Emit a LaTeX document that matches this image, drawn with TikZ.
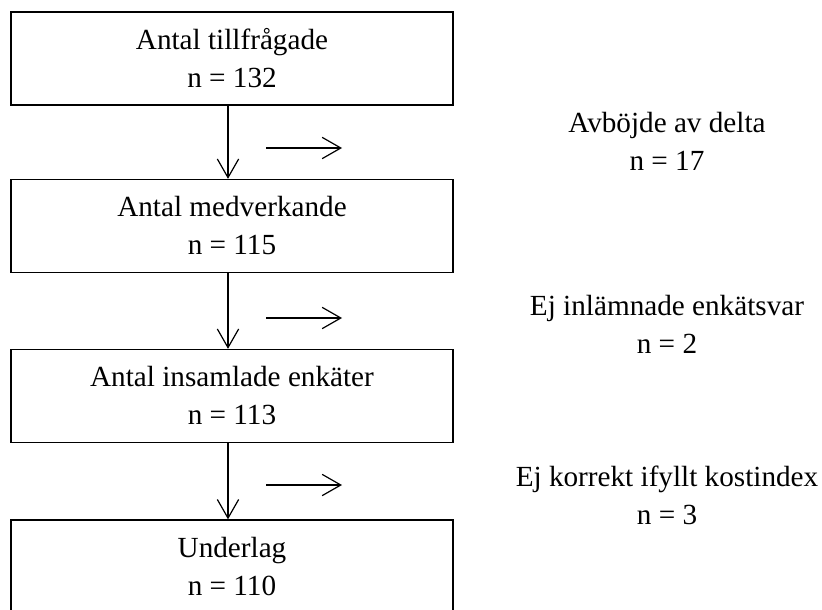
\documentclass[tikz,border=0pt]{standalone}
\usepackage{fontspec}
\setmainfont{Liberation Serif}
\usetikzlibrary{arrows.meta}
\tikzset{
    box/.style={draw, line width=1pt, minimum width=331.5pt, minimum height=69.75pt, inner sep=0pt, align=center},
    note/.style={align=center, inner sep=0pt},
    flow/.style={-{Straight Barb[length=14pt, width=16pt]}, line width=0.9pt},
    fc/.style={font=\fontsize{21.9}{28.5}\selectfont}
}
\begin{document}
\begin{tikzpicture}[x=0.75pt, y=-0.75pt, fc]
    \clip (0,0) rectangle (822,610);
    \useasboundingbox (0,0) rectangle (822,610);

    \node[box] (tot) at (232,58.5) {Antal tillfrågade\\n = 132};
    \node[box] (med) at (232,226) {Antal medverkande\\n = 115};
    \node[box] (ins) at (232,396) {Antal insamlade enkäter\\n = 113};
    \node[box] (und) at (232,566.5) {Underlag\\n = 110};

    \node[note] (avb) at (667,141) {Avböjde av delta\\n = 17};
    \node[note] (ejin) at (667,324) {Ej inlämnade enkätsvar\\n = 2};
    \node[note] (ejko) at (667,495) {Ej korrekt ifyllt kostindex\\n = 3};

    \coordinate (e1a) at (266,148); \coordinate (e1b) at (342,148);
    \coordinate (e2a) at (266,318); \coordinate (e2b) at (342,318);
    \coordinate (e3a) at (266,485); \coordinate (e3b) at (342,485);

    \draw[flow] ([xshift=-3pt]tot.south) -- ([xshift=-3pt]med.north);
    \draw[flow] ([xshift=-3pt]med.south) -- ([xshift=-3pt]ins.north);
    \draw[flow] ([xshift=-3pt]ins.south) -- ([xshift=-3pt]und.north);

    \draw[flow] (e1a) -- (e1b);
    \draw[flow] (e2a) -- (e2b);
    \draw[flow] (e3a) -- (e3b);
\end{tikzpicture}
\end{document}
